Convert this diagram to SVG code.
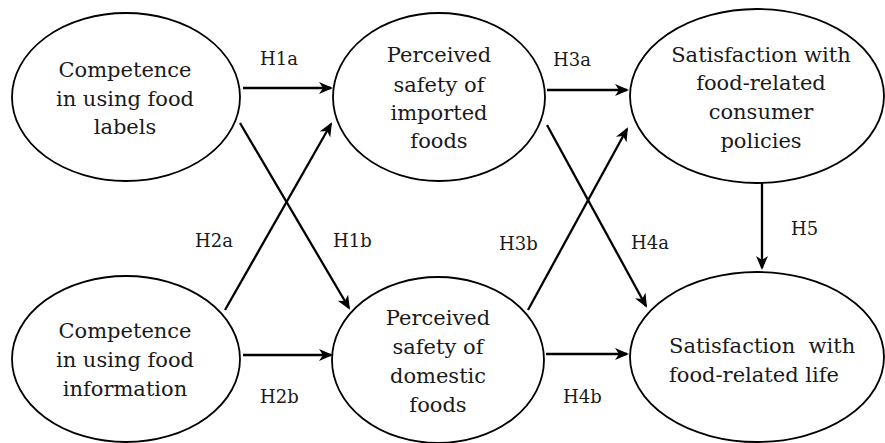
<svg xmlns="http://www.w3.org/2000/svg" width="885" height="443" viewBox="0 0 885 443">
<style>
.node ellipse{fill:#fff;stroke:#000;stroke-width:1.8}
.node text{font-family:"DejaVu Serif","Liberation Serif",serif;font-size:21px;fill:#1a1a1a;text-anchor:middle}
.lbl{font-family:"DejaVu Serif","Liberation Serif",serif;font-size:18px;fill:#1a1a1a}
#connectors line{stroke:#000;stroke-width:2.3;marker-end:url(#ah)}
</style>
<defs>
<marker id="ah" viewBox="0 0 14 12" refX="12" refY="6" markerWidth="14" markerHeight="12" markerUnits="userSpaceOnUse" orient="auto">
<path d="M0,0 L14,6 L0,12 L4,6 z" fill="#000"/>
</marker>
</defs>
<rect width="885" height="443" fill="#fff"/>
<g id="connectors">
<line x1="243" y1="88" x2="331" y2="88"/>
<line x1="240" y1="123" x2="349" y2="308"/>
<line x1="225" y1="310" x2="331" y2="124"/>
<line x1="243" y1="355" x2="331" y2="355"/>
<line x1="547" y1="90" x2="627" y2="90"/>
<line x1="547" y1="125" x2="646" y2="306"/>
<line x1="528" y1="310" x2="627" y2="129"/>
<line x1="546" y1="354" x2="627" y2="354"/>
<line x1="762" y1="181" x2="762" y2="268"/>
</g>
<g id="labels">
<text class="lbl" x="260" y="65">H1a</text>
<text class="lbl" x="553" y="66">H3a</text>
<text class="lbl" x="195" y="247">H2a</text>
<text class="lbl" x="333" y="247">H1b</text>
<text class="lbl" x="499" y="250">H3b</text>
<text class="lbl" x="631" y="249">H4a</text>
<text class="lbl" x="791" y="235">H5</text>
<text class="lbl" x="260" y="403">H2b</text>
<text class="lbl" x="563" y="403">H4b</text>
</g>
<g id="n1" class="node">
<ellipse cx="126" cy="97" rx="114" ry="84"/>
<text x="125" y="77">Competence</text>
<text x="125" y="106">in using food</text>
<text x="125" y="134">labels</text>
</g>
<g id="n2" class="node">
<ellipse cx="439" cy="97" rx="106" ry="84"/>
<text x="439" y="62">Perceived</text>
<text x="439" y="92">safety of</text>
<text x="439" y="120">imported</text>
<text x="439" y="148">foods</text>
</g>
<g id="n3" class="node">
<ellipse cx="757" cy="96" rx="127" ry="87"/>
<text x="761" y="62">Satisfaction with</text>
<text x="761" y="90">food-related</text>
<text x="761" y="119">consumer</text>
<text x="761" y="148">policies</text>
</g>
<g id="n4" class="node">
<ellipse cx="126" cy="359" rx="114" ry="83"/>
<text x="125" y="338">Competence</text>
<text x="125" y="367">in using food</text>
<text x="125" y="396">information</text>
</g>
<g id="n5" class="node">
<ellipse cx="438" cy="360" rx="106" ry="83"/>
<text x="438" y="325">Perceived</text>
<text x="438" y="354">safety of</text>
<text x="438" y="383">domestic</text>
<text x="438" y="412">foods</text>
</g>
<g id="n6" class="node">
<ellipse cx="757" cy="357" rx="127" ry="85"/>
<text x="669" y="353" style="text-anchor:start;white-space:pre">Satisfaction  with</text>
<text x="669" y="382" style="text-anchor:start">food-related life</text>
</g>
</svg>
